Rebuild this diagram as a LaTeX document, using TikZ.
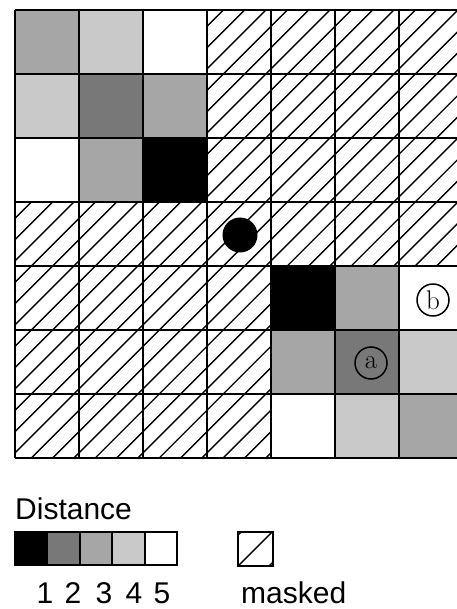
\documentclass[tikz,border=0pt]{standalone}
\usepackage{fontspec}
\setsansfont{Liberation Sans}
\definecolor{dist1}{gray}{0}
\definecolor{dist2}{gray}{0.47}
\definecolor{dist3}{gray}{0.65}
\definecolor{dist4}{gray}{0.79}
\definecolor{dist5}{gray}{1}
\begin{document}
\begin{tikzpicture}[
    x=1pt, y=-1pt,
    gridline/.style={line width=2.8pt},
    hatch/.style={line width=1.4pt},
    obstacle/.style={circle, fill=black, minimum size=35pt, inner sep=0pt},
    cellmark/.style={circle, draw=black, line width=1.5pt, minimum size=32pt, inner sep=0pt, font=\fontsize{27}{27}\selectfont},
    legendbox/.style={draw=black, line width=1.8pt},
    legendtext/.style={font=\sffamily\fontsize{30}{30}\selectfont, inner sep=0pt}
]
    \useasboundingbox (0,0) rectangle (456,609);

    % Distance cells
    \foreach \r/\c/\g in {0/0/3, 0/1/4, 0/2/5, 1/0/4, 1/1/2, 1/2/3, 2/0/5, 2/1/3, 2/2/1,
                          4/4/1, 4/5/3, 4/6/5, 5/4/3, 5/5/2, 5/6/4, 6/4/5, 6/5/4, 6/6/3}
        \fill[dist\g] (15+64*\c, 10+64*\r) rectangle ++(64,64);

    % Masked cells
    \begin{scope}
        \clip (207,10) rectangle (463,202) (15,202) rectangle (463,266) (15,266) rectangle (271,458);
        \foreach \k in {0,...,45}
            \draw[hatch] (0, 20+21.33*\k) -- (480, 20+21.33*\k-480);
    \end{scope}

    % Grid
    \foreach \i in {0,...,7} {
        \draw[gridline] (15+64*\i,10) -- (15+64*\i,458);
        \draw[gridline] (15,10+64*\i) -- (463,10+64*\i);
    }

    % Obstacle and marks
    \node[obstacle] (obstacle) at (240,235) {};
    \node[cellmark] (marka) at (371,363) {a};
    \node[cellmark] (markb) at (433,300) {b};

    % Legend
    \node[legendtext, anchor=base west] (distance) at (15,519) {Distance};
    \foreach \g/\cx in {1/45, 2/73, 3/104, 4/134, 5/162} {
        \draw[legendbox, fill=dist\g] (15+32.4*\g-32.4,532) rectangle ++(32.4,33);
        \node[legendtext, anchor=base] (num\g) at (\cx,603) {\g};
    }
    \draw[legendbox] (238,532) rectangle (273,566);
    \begin{scope}
        \clip (238,532) rectangle (273,566);
        \foreach \k in {-1,0,1}
            \draw[hatch] (238+31*\k,566) -- ++(35,-35);
    \end{scope}
    \node[legendtext, anchor=base west] (masked) at (241,603) {masked};
\end{tikzpicture}
\end{document}
